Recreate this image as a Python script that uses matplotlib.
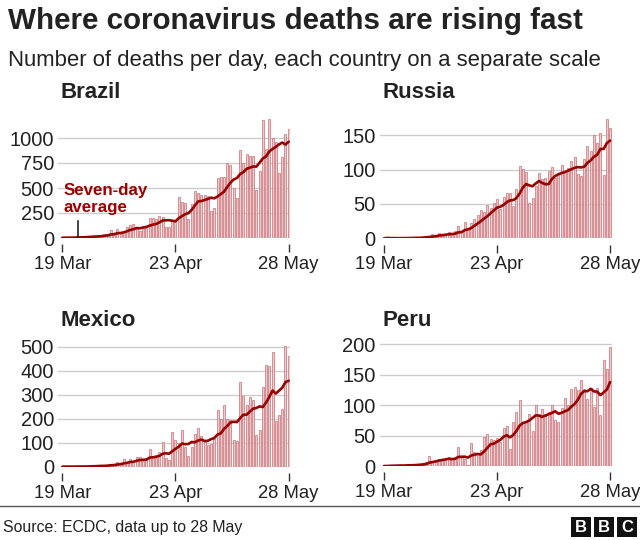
import matplotlib
matplotlib.use("Agg")
import matplotlib.pyplot as plt
from matplotlib.patches import Rectangle
from matplotlib.lines import Line2D
import numpy as np
import pandas as pd

plt.rcParams['font.family'] = ['Liberation Sans', 'DejaVu Sans']

# ---- data: deaths per day, 19 Mar .. 28 May (71 days) ----
tick_days = [0, 35, 70]
tick_labels = ["19 Mar", "23 Apr", "28 May"]

brazil = [3, 3, 4, 4, 10, 9, 12, 13, 18, 15, 19, 25, 23, 42,
          39, 84, 35, 86, 41, 67, 114, 133, 141, 115, 68, 99, 105, 204, 204, 188,
          217, 206, 115, 113, 166, 165, 407, 357, 346, 189, 338, 474, 449, 435,
          428, 421, 275, 296, 600, 615, 610, 751, 730, 496, 396, 881, 749, 844,
          824, 816, 485, 674, 1179, 888, 1188, 1001, 965, 653, 807, 1039, 1086]

russia = [0, 1, 0, 0, 0, 0, 1, 0, 2, 1, 1, 0, 2, 4, 3, 6, 5, 8, 4, 6,
          9, 5, 10, 18, 11, 24, 14, 22, 28, 34, 41, 38, 48, 44, 51, 57, 42, 60,
          66, 66, 47, 72, 105, 101, 96, 52, 58, 76, 95, 86, 88, 98, 104, 88, 94,
          107, 96, 102, 113, 119, 94, 91, 115, 135, 127, 150, 139, 153, 92, 174, 161]

mexico = [0, 1, 0, 1, 0, 2, 1, 1, 2, 4, 4, 4, 8, 1,
          8, 13, 10, 19, 15, 31, 16, 33, 20, 39, 40, 23, 36, 74, 43, 37, 60, 104,
          36, 26, 145, 113, 99, 152, 84, 46, 83, 135, 163, 127,
          113, 89, 93, 117, 236, 197, 257, 199, 193, 112, 108, 353, 294, 257, 290,
          278, 132, 155, 334, 424, 420, 479, 190, 215, 239, 501, 463]

peru = [0, 0, 1, 1, 1, 2, 0, 2, 1, 2, 3, 4, 5, 6, 17, 8, 10, 12, 11, 11,
        14, 13, 12, 31, 14, 12, 1, 37, 23, 20, 26, 48, 52, 45, 42, 46, 40, 62,
        66, 28, 72, 88, 108, 70, 72, 85, 58, 100, 85, 94, 85, 88, 100, 76, 72,
        95, 112, 100, 126, 130, 124, 141, 127, 110, 128, 96, 128, 83, 173, 159, 195]

countries = ["Brazil", "Russia", "Mexico", "Peru"]
series = [brazil, russia, mexico, peru]
yticks = [[0, 250, 500, 750, 1000], [0, 50, 100, 150],
          [0, 100, 200, 300, 400, 500], [0, 50, 100, 150, 200]]
ytops = [1200, 175, 505, 201]

W, H = 640, 540
fig = plt.figure(figsize=(6.4, 5.4), dpi=100)
fig.patch.set_facecolor("white")

def fx(x):
    return x / W

def fy(y):
    return 1 - y / H

# axes boxes in pixels: (left, right, top, bottom)
boxes = [(58.1, 290.3, 118.0, 238.0),
         (379.8, 611.7, 118.1, 238.3),
         (58.1, 290.3, 345.5, 466.7),
         (379.8, 611.7, 343.4, 466.0)]
title_pos = [(60, 98), (382, 98), (60, 326), (382, 326)]

BAR_FACE = "#ecc9cb"
BAR_EDGE = "#c2646b"
LINE_C = "#990000"

for i, (name, vals) in enumerate(zip(countries, series)):
    l, r, t, b = boxes[i]
    ax = fig.add_axes([fx(l), fy(b), (r - l) / W, (b - t) / H])
    days = np.arange(len(vals))
    ax.bar(days, vals, width=0.62, color=BAR_FACE, edgecolor=BAR_EDGE,
           linewidth=0.45, zorder=2)
    avg = pd.Series(vals).rolling(7, min_periods=1).mean()
    ax.plot(days, avg, color=LINE_C, lw=1.9, zorder=3, solid_capstyle="round")
    ax.set_xlim(-1.3, 70.5)
    ax.set_ylim(0, ytops[i])
    ax.set_yticks(yticks[i])
    ax.set_yticklabels([str(v) for v in yticks[i]])
    ax.grid(axis="y", color="#cccccc", lw=1.0, zorder=0)
    ax.set_axisbelow(True)
    for s in ["left", "right", "top"]:
        ax.spines[s].set_visible(False)
    ax.spines["bottom"].set_color("none")
    ax.spines["bottom"].set_position(("outward", 4.5))
    ax.set_xticks(tick_days)
    ax.set_xticklabels(tick_labels)
    ax.tick_params(axis="y", length=0, pad=3, labelsize=14.5, labelcolor="#222222")
    ax.tick_params(axis="x", length=5.5, width=1.0, color="#333333", pad=3,
                   labelsize=13.3, labelcolor="#222222")
    ax.patch.set_alpha(0)
    tx, ty = title_pos[i]
    fig.text(fx(tx), fy(ty), name, fontsize=16, fontweight="bold",
             color="#222222", va="baseline", ha="left")
    if name == "Brazil":
        ax.text(0.3, 430, "Seven-day", color=LINE_C, fontsize=12.2,
                fontweight="bold", va="baseline", ha="left", zorder=4)
        ax.text(0.3, 260, "average", color=LINE_C, fontsize=12.2,
                fontweight="bold", va="baseline", ha="left", zorder=4)
        ax.plot([5, 5], [0, 172], color="#111111", lw=1.1, zorder=4)

fig.text(fx(8), fy(29), "Where coronavirus deaths are rising fast",
         fontsize=21.3, fontweight="bold", color="#222222", va="baseline")
fig.text(fx(8), fy(66), "Number of deaths per day, each country on a separate scale",
         fontsize=15.9, color="#222222", va="baseline")

fig.add_artist(Line2D([0, 1], [fy(506), fy(506)], color="#555555", lw=1.0))
fig.text(fx(3), fy(532), "Source: ECDC, data up to 28 May", fontsize=11.4,
         color="#222222", va="baseline")

for k, letter in enumerate(["B", "B", "C"]):
    x0 = 571 + k * 23
    fig.add_artist(Rectangle((fx(x0), fy(537)), 20 / W, 20 / H,
                             transform=fig.transFigure, facecolor="#111111",
                             edgecolor="none"))
    fig.text(fx(x0 + 10), fy(527.5), letter, color="white", fontsize=12,
             fontweight="bold", ha="center", va="center")

fig.savefig("out.png", dpi=100, facecolor="white")
